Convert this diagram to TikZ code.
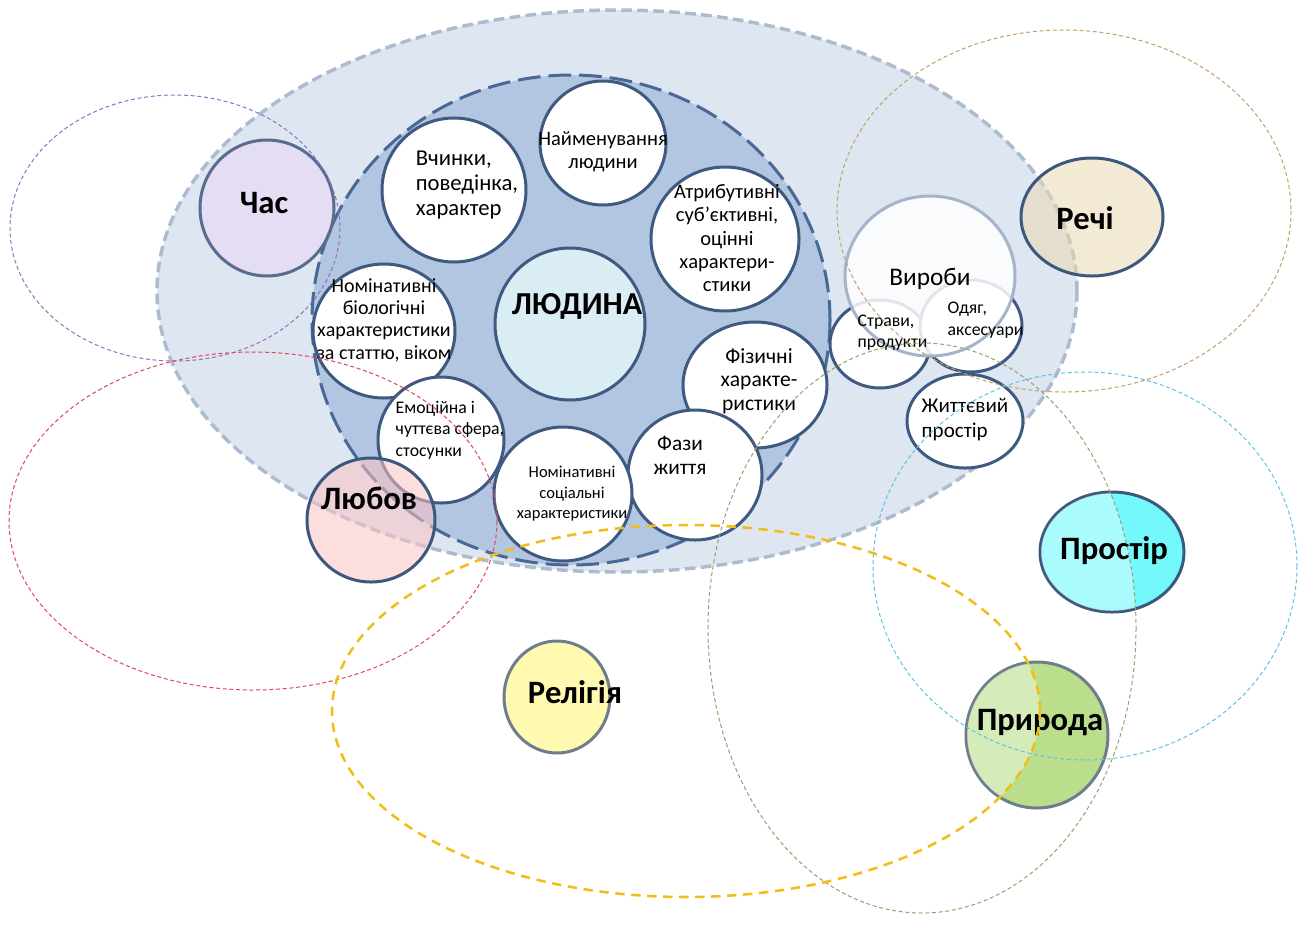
\documentclass[tikz,border=0pt]{standalone}
\usepackage{fontspec}
\setmainfont{Carlito}
\usetikzlibrary{shapes.geometric}

\definecolor{bigfill}{RGB}{222,230,241}
\definecolor{bigline}{RGB}{172,188,206}
\definecolor{corefill}{RGB}{178,197,225}
\definecolor{coreline}{RGB}{72,104,150}
\definecolor{ringblue}{RGB}{62,90,128}
\definecolor{peoplefill}{RGB}{218,236,244}
\definecolor{thingline}{RGB}{165,180,202}
\definecolor{topicline}{RGB}{60,88,124}
\definecolor{greyline}{RGB}{110,125,140}
\definecolor{chasline}{RGB}{88,108,142}
\definecolor{chasfill}{RGB}{233,215,248}
\definecolor{rechifill}{RGB}{232,217,177}
\definecolor{lyubfill}{RGB}{250,195,195}
\definecolor{prostfill}{RGB}{0,242,250}
\definecolor{pryrfill}{RGB}{130,195,46}
\definecolor{relfill}{RGB}{255,246,110}
\definecolor{chasdash}{RGB}{150,110,190}
\definecolor{lyubdash}{RGB}{225,70,90}
\definecolor{reldash}{RGB}{240,190,25}
\definecolor{prostdash}{RGB}{90,195,230}
\definecolor{pryrdash}{RGB}{150,160,110}
\definecolor{rechidash}{RGB}{195,160,100}

\begin{document}
\begin{tikzpicture}[x=0.75pt,y=-0.75pt,
  rad/.style 2 args={minimum width=#1*1.5pt,minimum height=#2*1.5pt},
  ring/.style={ellipse,draw=ringblue,line width=2.25pt,fill=white,inner sep=0pt},
  topic/.style={ellipse,draw=topicline,line width=2.25pt,fill=#1,
    fill opacity=0.55,text opacity=1,inner sep=0pt,
    font=\bfseries\fontsize{24.5}{28}\selectfont},
  txt/.style={align=center,font=\fontsize{15.4}{17.3}\selectfont},
  smalltxt/.style={align=left,font=\fontsize{13.3}{16}\selectfont},
  outline/.style={#1,line width=0.75pt,dash pattern=on 3pt off 2pt}]
  \useasboundingbox (0,0) rectangle (1307,926);

  % the field of the human being
  \draw[bigline,fill=bigfill,line width=2.6pt,dash pattern=on 8pt off 4pt]
    (617,291) ellipse[x radius=460,y radius=281];
  \draw[coreline,fill=corefill,line width=2.25pt,dash pattern=on 17pt off 6pt]
    (571,320) ellipse[x radius=259,y radius=245];

  % inner circles
  \node[ring,rad={63}{62}] (naimen) at (603,143) {};
  \node[ring,rad={72}{72}] (vchynky) at (454,190) {};
  \node[ring,rad={74}{72}] (atryb) at (725,239) {};
  \node[ring,rad={75}{76},fill=peoplefill] (lyudyna) at (570,324) {};
  \node[ring,rad={71}{67}] (nombio) at (384,331) {};
  \node[ring,rad={72}{63}] (fizychni) at (755,385) {};
  \node[ring,rad={67}{65}] (fazy) at (695,475) {};
  \node[ring,rad={69}{67}] (nomsoc) at (563,494) {};
  \node[ring,rad={63}{63}] (emots) at (441,440) {};

  \node[txt] (naimen-t) at (603,152) {Найменування\\людини};
  \node[txt,align=left,font=\fontsize{17}{19}\selectfont] (vchynky-t)
    at (467,185) {Вчинки,\\поведінка,\\характер};
  \node[txt] (atryb-t) at (727,238)
    {Атрибутивні\\суб’єктивні,\\оцінні\\характери-\\стики};
  \node[txt,font=\bfseries\fontsize{24}{28}\selectfont] (lyudyna-t)
    at (577,306) {ЛЮДИНА};
  \node[txt,font=\fontsize{15}{16.8}\selectfont] (nombio-t) at (384,320)
    {Номінативні\\біологічні\\характеристики\\за статтю,\ віком};
  \node[txt,font=\fontsize{16.2}{17.6}\selectfont] (fizychni-t) at (759,381)
    {Фізичні\\характе-\\ристики};
  \node[txt,font=\fontsize{16}{18}\selectfont] (fazy-t) at (680,455)
    {Фази\\життя};
  \node[txt,font=\fontsize{12.4}{15.4}\selectfont] (nomsoc-t) at (572,494)
    {Номінативні\\соціальні\\характеристики};
  \node[smalltxt,anchor=west] (emots-t) at (391,430)
    {Емоційна і\\чуттєва сфера,\\стосунки};

  % things
  \node[ring,rad={50}{44}] (stravy) at (880,344) {};
  \node[ring,rad={51}{46}] (odyag) at (971,326) {};
  \node[ring,rad={85}{80},draw=thingline,fill opacity=0.85] (vyroby) at (930,276) {};
  \node[ring,rad={58}{47}] (zhyttev) at (965,421) {};

  \node[txt,font=\fontsize{19}{22}\selectfont] (vyroby-t) at (930,279) {Вироби};
  \node[smalltxt,anchor=west] (stravy-t) at (853,333) {Страви,\\продукти};
  \node[smalltxt,anchor=west] (odyag-t) at (943,320) {Одяг,\\аксесуари};
  \node[txt,align=left,font=\fontsize{15.8}{18.8}\selectfont,anchor=west]
    (zhyttev-t) at (917,420) {Життєвий\\простір};

  % topics
  \node[topic=chasfill,rad={67}{68},draw=chasline] (chas) at (267,208) {};
  \node[topic=rechifill,rad={71}{59}] (rechi) at (1092,217) {};
  \node[topic=lyubfill,rad={64}{62}] (lyubov) at (371,520) {};
  \node[topic=prostfill,rad={72}{60}] (prostir) at (1112,552) {};
  \node[topic=pryrfill,rad={71}{73},draw=greyline] (pryroda) at (1037,735) {};
  \node[topic=relfill,rad={53}{56},draw=greyline] (religia) at (557,697) {};

  % lighter parts inside the dashed fields
  \begin{scope}
    \clip (922,628) ellipse[x radius=214,y radius=285];
    \fill[white,opacity=0.4] (1112,552) ellipse[x radius=71,y radius=59];
  \end{scope}
  \begin{scope}
    \clip (686,711) ellipse[x radius=354,y radius=186];
    \fill[white,opacity=0.4] (1037,735) ellipse[x radius=70,y radius=72];
  \end{scope}

  \node[topic=white,draw=none,fill=none] (chas-t) at (264,203) {Час};
  \node[topic=white,draw=none,fill=none] (rechi-t) at (1085,218) {Речі};
  \node[topic=white,draw=none,fill=none] (lyubov-t) at (369,498) {Любов};
  \node[topic=white,draw=none,fill=none] (prostir-t) at (1114,551) {Простір};
  \node[topic=white,draw=none,fill=none] (pryroda-t) at (1040,723) {Природа};
  \node[topic=white,draw=none,fill=none] (religia-t) at (575,692) {Релігія};

  % dashed fields of the topics
  \draw[outline=chasdash] (175,228) ellipse[x radius=165,y radius=133];
  \draw[outline=lyubdash] (253,521) ellipse[x radius=244,y radius=169];
  \draw[outline=rechidash] (1064,211) ellipse[x radius=227,y radius=181];
  \draw[outline=prostdash] (1085,566) ellipse[x radius=212,y radius=194];
  \draw[outline=pryrdash] (922,628) ellipse[x radius=214,y radius=285];
  \draw[reldash,line width=1.9pt,dash pattern=on 7pt off 5pt]
    (686,711) ellipse[x radius=354,y radius=186];
\end{tikzpicture}
\end{document}
